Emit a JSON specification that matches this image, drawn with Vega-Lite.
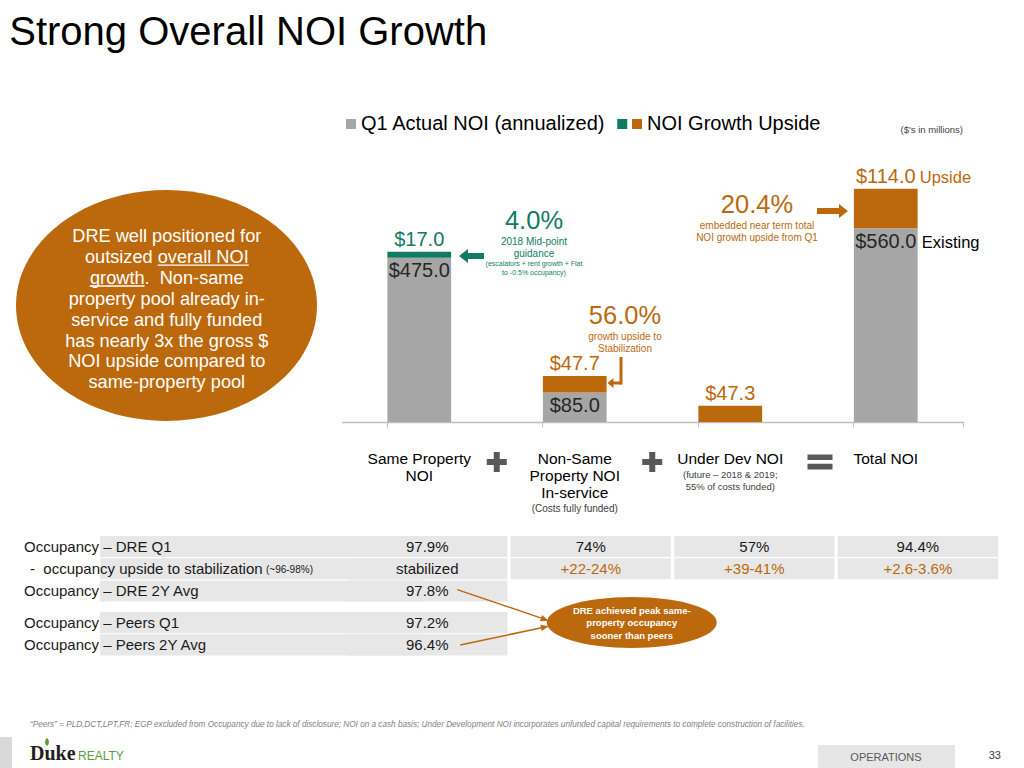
{
  "$schema": "https://vega.github.io/schema/vega-lite/v6.json",
  "width": 1024,
  "height": 768,
  "autosize": {"type": "none"},
  "padding": 0,
  "background": "#ffffff",
  "config": {"view": {"stroke": null}, "font": "Liberation Sans", "text": {"font": "Liberation Sans"}},
  "datasets": {
    "bars": [
      {"category": "Same Property NOI", "part": "Q1 Actual NOI (annualized)", "layer": "Existing", "value": 475},
      {"category": "Same Property NOI", "part": "2018 guidance growth", "layer": "Upside", "value": 17},
      {"category": "Non-Same Property NOI", "part": "Q1 Actual NOI (annualized)", "layer": "Existing", "value": 85},
      {"category": "Non-Same Property NOI", "part": "NOI Growth Upside", "layer": "Upside", "value": 47.7},
      {"category": "Under Dev NOI", "part": "NOI Growth Upside", "layer": "Upside", "value": 47.3},
      {"category": "Total NOI", "part": "Q1 Actual NOI (annualized)", "layer": "Existing", "value": 560},
      {"category": "Total NOI", "part": "NOI Growth Upside", "layer": "Upside", "value": 114}
    ],
    "cats": [
      {"category": "Same Property NOI", "lines": ["Same Property", "NOI"]},
      {"category": "Non-Same Property NOI", "lines": ["Non-Same", "Property NOI", "In-service"]},
      {"category": "Under Dev NOI", "lines": ["Under Dev NOI"]},
      {"category": "Total NOI", "lines": ["Total NOI"]}
    ],
    "ops": [
      {"before": "Non-Same Property NOI", "op": "+"},
      {"before": "Under Dev NOI", "op": "+"},
      {"before": "Total NOI", "op": "="}
    ],
    "notes": [
      {"key": "title", "text": "Strong Overall NOI Growth"},
      {"key": "units", "text": "($'s in millions)"},
      {"key": "g_pct", "text": "4.0%"},
      {"key": "g_sub", "text": ["2018 Mid-point", "guidance"]},
      {"key": "g_note", "text": ["(escalators + rent growth + Flat", "to -0.5% occupancy)"]},
      {"key": "n_pct", "text": "56.0%"},
      {"key": "n_sub", "text": ["growth upside to", "Stabilization"]},
      {"key": "t_pct", "text": "20.4%"},
      {"key": "t_sub", "text": ["embedded near term total", "NOI growth upside from Q1"]},
      {"key": "callout", "text": ["DRE well positioned for", "outsized overall NOI", "growth.\u00a0 Non-same", "property pool already in-", "service and fully funded", "has nearly 3x the gross $", "NOI upside compared to", "same-property pool"]},
      {"key": "sub_nonsame", "text": "(Costs fully funded)"},
      {"key": "sub_underdev", "text": ["(future \u2013 2018 & 2019;", "55% of costs funded)"]},
      {"key": "peak", "text": ["DRE achieved peak same-", "property occupancy", "sooner than peers"]},
      {"key": "footnote", "text": "\u201cPeers\u201d = PLD,DCT,LPT,FR; EGP excluded from Occupancy due to lack of disclosure; NOI on a cash basis; Under Development NOI incorporates unfunded capital requirements to complete construction of facilities."},
      {"key": "logo_a", "text": "Duke"},
      {"key": "logo_b", "text": "REALTY"},
      {"key": "section", "text": "OPERATIONS"},
      {"key": "page", "text": "33"}
    ],
    "table": [
      {"row": "r1", "col": "label", "kind": "label", "tone": "base", "text": "Occupancy \u2013 DRE Q1"},
      {"row": "r1", "col": "Same Property NOI", "kind": "value", "tone": "base", "text": "97.9%"},
      {"row": "r1", "col": "Non-Same Property NOI", "kind": "value", "tone": "base", "text": "74%"},
      {"row": "r1", "col": "Under Dev NOI", "kind": "value", "tone": "base", "text": "57%"},
      {"row": "r1", "col": "Total NOI", "kind": "value", "tone": "base", "text": "94.4%"},
      {"row": "r2", "col": "label", "kind": "sublabel", "tone": "base", "text": "-\u00a0\u00a0occupancy upside to stabilization"},
      {"row": "r2", "col": "label", "kind": "note", "tone": "base", "text": "(~96-98%)"},
      {"row": "r2", "col": "Same Property NOI", "kind": "value", "tone": "base", "text": "stabilized"},
      {"row": "r2", "col": "Non-Same Property NOI", "kind": "value", "tone": "upside", "text": "+22-24%"},
      {"row": "r2", "col": "Under Dev NOI", "kind": "value", "tone": "upside", "text": "+39-41%"},
      {"row": "r2", "col": "Total NOI", "kind": "value", "tone": "upside", "text": "+2.6-3.6%"},
      {"row": "r3", "col": "label", "kind": "label", "tone": "base", "text": "Occupancy \u2013 DRE 2Y Avg"},
      {"row": "r3", "col": "Same Property NOI", "kind": "value", "tone": "base", "text": "97.8%"},
      {"row": "r4", "col": "label", "kind": "label", "tone": "base", "text": "Occupancy \u2013 Peers Q1"},
      {"row": "r4", "col": "Same Property NOI", "kind": "value", "tone": "base", "text": "97.2%"},
      {"row": "r5", "col": "label", "kind": "label", "tone": "base", "text": "Occupancy \u2013 Peers 2Y Avg"},
      {"row": "r5", "col": "Same Property NOI", "kind": "value", "tone": "base", "text": "96.4%"}
    ]
  },
  "layer": [
    {
      "layer": [
        {
          "data": {"name": "bars"},
          "transform": [
            {"stack": "value", "groupby": ["category"], "sort": [{"field": "layer", "order": "ascending"}], "as": ["v0", "v1"]},
            {"calculate": "'$' + format(datum.value, '.1f')", "as": "label"}
          ],
          "layer": [
            {
              "mark": {"type": "bar"},
              "encoding": {
                "x": {"field": "category", "type": "nominal", "sort": null,
                  "scale": {"domain": ["Same Property NOI", "Non-Same Property NOI", "Under Dev NOI", "Total NOI"], "range": [341.5, 963.5], "paddingInner": 0.59, "paddingOuter": 0.295},
                  "axis": {"orient": "bottom", "offset": -346, "labels": false, "title": null, "grid": false, "domainColor": "#BFBFBF", "domainWidth": 1.5, "tickColor": "#BFBFBF", "tickWidth": 1, "tickSize": 5, "bandPosition": 0}},
                "y": {"field": "v0", "type": "quantitative", "scale": {"domain": [0, 700], "range": [422, 179.8], "nice": false, "zero": false}, "axis": null},
                "y2": {"field": "v1"},
                "color": {"field": "part", "type": "nominal",
                  "scale": {"domain": ["Q1 Actual NOI (annualized)", "2018 guidance growth", "NOI Growth Upside"], "range": ["#A6A6A6", "#117C63", "#BC690D"]},
                  "legend": {"orient": "none", "legendX": 341, "legendY": 114, "direction": "horizontal", "columns": 2, "values": ["Q1 Actual NOI (annualized)", "NOI Growth Upside"], "title": null, "symbolType": "square", "symbolSize": 100, "symbolStrokeWidth": 0, "symbolOpacity": 1, "labelFontSize": 20, "labelFont": "Liberation Sans", "labelColor": "#000000", "labelOffset": 0, "columnPadding": 21, "padding": 0, "labelLimit": 400}}
              }
            },
            {
              "transform": [{"filter": "datum.layer === 'Upside'"}],
              "mark": {"type": "text", "fontSize": 20, "baseline": "alphabetic", "dy": -6},
              "encoding": {
                "x": {"field": "category", "type": "nominal"},
                "y": {"field": "v1", "type": "quantitative"},
                "text": {"field": "label"},
                "color": {"condition": {"test": "datum.part === '2018 guidance growth'", "value": "#117C63"}, "value": "#BC690D"}
              }
            },
            {
              "transform": [{"filter": "datum.layer === 'Existing'"}],
              "mark": {"type": "text", "fontSize": 20, "baseline": "alphabetic", "dy": 19.5, "color": "#262626"},
              "encoding": {
                "x": {"field": "category", "type": "nominal"},
                "y": {"field": "v1", "type": "quantitative"},
                "text": {"field": "label"}
              }
            },
            {
              "transform": [{"filter": "datum.category === 'Total NOI' && datum.layer === 'Upside'"}],
              "mark": {"type": "text", "fontSize": 16.5, "align": "left", "baseline": "alphabetic", "dx": 34, "dy": -6, "color": "#BC690D"},
              "encoding": {
                "x": {"field": "category", "type": "nominal"},
                "y": {"field": "v1", "type": "quantitative"},
                "text": {"field": "layer"}
              }
            },
            {
              "transform": [{"filter": "datum.category === 'Total NOI' && datum.layer === 'Existing'"}],
              "mark": {"type": "text", "fontSize": 16.5, "align": "left", "baseline": "alphabetic", "dx": 36, "dy": 19.5, "color": "#000000"},
              "encoding": {
                "x": {"field": "category", "type": "nominal"},
                "y": {"field": "v1", "type": "quantitative"},
                "text": {"field": "layer"}
              }
            }
          ]
        },
        {
          "data": {"name": "notes"},
          "transform": [{"filter": "datum.key === 'callout'"}],
          "mark": {"type": "point", "filled": true, "opacity": 1, "strokeWidth": 0, "color": "#BC690D", "size": 90601, "xOffset": -252.75,
            "shape": "M1,0C1,0.4236,0.5523,0.767,0,0.767C-0.5523,0.767,-1,0.4236,-1,0C-1,-0.4236,-0.5523,-0.767,0,-0.767C0.5523,-0.767,1,-0.4236,1,0Z"},
          "encoding": {"x": {"datum": "Same Property NOI"}, "y": {"datum": 336.7}}
        },
        {
          "data": {"name": "notes"},
          "transform": [{"filter": "datum.key === 'callout'"}],
          "mark": {"type": "text", "fontSize": 18.2, "lineHeight": 20.86, "baseline": "middle", "align": "center", "dx": -252.45, "color": "#FFFFFF"},
          "encoding": {"x": {"datum": "Same Property NOI"}, "y": {"datum": 533.8}, "text": {"field": "text"}}
        },
        {
          "data": {"name": "notes"},
          "transform": [{"filter": "datum.key === 'callout'"}],
          "mark": {"type": "point", "filled": true, "opacity": 1, "strokeWidth": 0, "color": "#FFFFFF", "size": 8300, "xOffset": -216.05,
            "shape": "M-1,-0.0143L1,-0.0143L1,0.0143L-1,0.0143Z"},
          "encoding": {"x": {"datum": "Same Property NOI"}, "y": {"datum": 453.2}}
        },
        {
          "data": {"name": "notes"},
          "transform": [{"filter": "datum.key === 'callout'"}],
          "mark": {"type": "point", "filled": true, "opacity": 1, "strokeWidth": 0, "color": "#FFFFFF", "size": 2981, "xOffset": -302.05,
            "shape": "M-1,-0.024L1,-0.024L1,0.024L-1,0.024Z"},
          "encoding": {"x": {"datum": "Same Property NOI"}, "y": {"datum": 393.1}}
        },
        {
          "data": {"name": "notes"},
          "transform": [{"filter": "datum.key === 'title'"}],
          "mark": {"type": "text", "fontSize": 40, "align": "left", "baseline": "alphabetic", "dx": -410, "color": "#000000"},
          "encoding": {"x": {"datum": "Same Property NOI"}, "y": {"datum": 1088.2}, "text": {"field": "text"}}
        },
        {
          "data": {"name": "notes"},
          "transform": [{"filter": "datum.key === 'units'"}],
          "mark": {"type": "text", "fontSize": 9.5, "align": "center", "baseline": "middle", "dx": 46, "color": "#404040"},
          "encoding": {"x": {"datum": "Total NOI"}, "y": {"datum": 843.9}, "text": {"field": "text"}}
        },
        {
          "data": {"name": "notes"},
          "transform": [{"filter": "datum.key === 'title'"}],
          "mark": {"type": "point", "filled": true, "opacity": 1, "strokeWidth": 0, "shape": "square", "size": 100, "color": "#117C63", "xOffset": 203},
          "encoding": {"x": {"datum": "Same Property NOI"}, "y": {"datum": 861.3}}
        },
        {
          "data": {"name": "notes"},
          "transform": [{"filter": "datum.key === 'g_pct'"}],
          "mark": {"type": "text", "fontSize": 25.5, "align": "center", "baseline": "middle", "dx": 114.75, "color": "#117C63"},
          "encoding": {"x": {"datum": "Same Property NOI"}, "y": {"datum": 580.9}, "text": {"field": "text"}}
        },
        {
          "data": {"name": "notes"},
          "transform": [{"filter": "datum.key === 'g_sub'"}],
          "mark": {"type": "text", "fontSize": 10, "lineHeight": 12, "align": "center", "baseline": "middle", "dx": 114.75, "color": "#117C63"},
          "encoding": {"x": {"datum": "Same Property NOI"}, "y": {"datum": 520.2}, "text": {"field": "text"}}
        },
        {
          "data": {"name": "notes"},
          "transform": [{"filter": "datum.key === 'g_note'"}],
          "mark": {"type": "text", "fontSize": 7, "lineHeight": 9, "align": "center", "baseline": "middle", "dx": 114.75, "color": "#117C63"},
          "encoding": {"x": {"datum": "Same Property NOI"}, "y": {"datum": 456.6}, "text": {"field": "text"}}
        },
        {
          "data": {"name": "notes"},
          "transform": [{"filter": "datum.key === 'g_pct'"}],
          "mark": {"type": "point", "filled": true, "opacity": 1, "strokeWidth": 0, "color": "#117C63", "size": 625, "xOffset": 52.25,
            "shape": "M1,-0.24L-0.28,-0.24L-0.28,-0.56L-1,0L-0.28,0.56L-0.28,0.24L1,0.24Z"},
          "encoding": {"x": {"datum": "Same Property NOI"}, "y": {"datum": 479.8}}
        },
        {
          "data": {"name": "notes"},
          "transform": [{"filter": "datum.key === 'n_pct'"}],
          "mark": {"type": "text", "fontSize": 25.5, "align": "center", "baseline": "middle", "dx": 50.25, "color": "#BC690D"},
          "encoding": {"x": {"datum": "Non-Same Property NOI"}, "y": {"datum": 306.4}, "text": {"field": "text"}}
        },
        {
          "data": {"name": "notes"},
          "transform": [{"filter": "datum.key === 'n_sub'"}],
          "mark": {"type": "text", "fontSize": 10, "lineHeight": 12, "align": "center", "baseline": "middle", "dx": 50.25, "color": "#BC690D"},
          "encoding": {"x": {"datum": "Non-Same Property NOI"}, "y": {"datum": 245.7}, "text": {"field": "text"}}
        },
        {
          "data": {"name": "notes"},
          "transform": [{"filter": "datum.key === 'n_pct'"}],
          "mark": {"type": "rule", "color": "#BC690D", "strokeWidth": 3, "xOffset": 46.25},
          "encoding": {"x": {"datum": "Non-Same Property NOI"}, "y": {"datum": 187.9}, "y2": {"datum": 108.4}}
        },
        {
          "data": {"name": "notes"},
          "transform": [{"filter": "datum.key === 'n_pct'"}],
          "mark": {"type": "point", "filled": true, "opacity": 1, "strokeWidth": 0, "color": "#BC690D", "size": 196, "xOffset": 39.75,
            "shape": "M1,-0.21L-0.15,-0.21L-0.15,-0.71L-1,0L-0.15,0.71L-0.15,0.21L1,0.21Z"},
          "encoding": {"x": {"datum": "Non-Same Property NOI"}, "y": {"datum": 112.7}}
        },
        {
          "data": {"name": "notes"},
          "transform": [{"filter": "datum.key === 't_pct'"}],
          "mark": {"type": "text", "fontSize": 25.5, "align": "center", "baseline": "middle", "dx": 26.75, "color": "#BC690D"},
          "encoding": {"x": {"datum": "Under Dev NOI"}, "y": {"datum": 627.2}, "text": {"field": "text"}}
        },
        {
          "data": {"name": "notes"},
          "transform": [{"filter": "datum.key === 't_sub'"}],
          "mark": {"type": "text", "fontSize": 10, "lineHeight": 12, "align": "center", "baseline": "middle", "dx": 26.75, "color": "#BC690D"},
          "encoding": {"x": {"datum": "Under Dev NOI"}, "y": {"datum": 566.5}, "text": {"field": "text"}}
        },
        {
          "data": {"name": "notes"},
          "transform": [{"filter": "datum.key === 't_pct'"}],
          "mark": {"type": "point", "filled": true, "opacity": 1, "strokeWidth": 0, "color": "#BC690D", "size": 961, "xOffset": -53.25,
            "shape": "M-1,-0.19L0.42,-0.19L0.42,-0.45L1,0L0.42,0.45L0.42,0.19L-1,0.19Z"},
          "encoding": {"x": {"datum": "Total NOI"}, "y": {"datum": 609.8}}
        },
        {
          "data": {"name": "cats"},
          "mark": {"type": "text", "fontSize": 15.5, "lineHeight": 17, "baseline": "top", "align": "center", "color": "#000000"},
          "encoding": {"x": {"field": "category", "type": "nominal"}, "y": {"datum": -87.9}, "text": {"field": "lines"}}
        },
        {
          "data": {"name": "notes"},
          "transform": [{"filter": "datum.key === 'sub_nonsame'"}],
          "mark": {"type": "text", "fontSize": 10, "baseline": "top", "align": "center", "color": "#404040"},
          "encoding": {"x": {"datum": "Non-Same Property NOI"}, "y": {"datum": -236.1}, "text": {"field": "text"}}
        },
        {
          "data": {"name": "notes"},
          "transform": [{"filter": "datum.key === 'sub_underdev'"}],
          "mark": {"type": "text", "fontSize": 9.5, "lineHeight": 12, "baseline": "top", "align": "center", "color": "#404040"},
          "encoding": {"x": {"datum": "Under Dev NOI"}, "y": {"datum": -138.4}, "text": {"field": "text"}}
        },
        {
          "data": {"name": "ops"},
          "transform": [{"filter": "datum.op === '+'"}],
          "mark": {"type": "point", "filled": true, "opacity": 1, "strokeWidth": 0, "color": "#595959", "size": 400, "xOffset": -78,
            "shape": "M-0.3,-1L0.3,-1L0.3,-0.3L1,-0.3L1,0.3L0.3,0.3L0.3,1L-0.3,1L-0.3,0.3L-1,0.3L-1,-0.3L-0.3,-0.3Z"},
          "encoding": {"x": {"field": "before", "type": "nominal"}, "y": {"datum": -115.6}}
        },
        {
          "data": {"name": "ops"},
          "transform": [{"filter": "datum.op === '='"}],
          "mark": {"type": "point", "filled": true, "opacity": 1, "strokeWidth": 0, "color": "#595959", "size": 625, "xOffset": -65.75,
            "shape": "M-1,-0.6L1,-0.6L1,-0.15L-1,-0.15ZM-1,0.15L1,0.15L1,0.6L-1,0.6Z"},
          "encoding": {"x": {"field": "before", "type": "nominal"}, "y": {"datum": -115.6}}
        },
        {
          "data": {"name": "ops"},
          "transform": [{"filter": "datum.op === '='"}],
          "mark": {"type": "rule", "color": "#BFBFBF", "strokeWidth": 1, "xOffset": 77.75},
          "encoding": {"x": {"field": "before", "type": "nominal"}, "y": {"datum": 0}, "y2": {"datum": -14.45}}
        },
        {
          "data": {"name": "notes"},
          "transform": [{"filter": "datum.key === 'footnote'"}],
          "mark": {"type": "text", "fontSize": 8.2, "fontStyle": "italic", "align": "left", "baseline": "middle", "dx": -389.25, "color": "#7F7F7F"},
          "encoding": {"x": {"datum": "Same Property NOI"}, "y": {"datum": -875.7}, "text": {"field": "text"}}
        },
        {
          "data": {"name": "notes"},
          "transform": [{"filter": "datum.key === 'logo_a'"}],
          "mark": {"type": "point", "filled": true, "opacity": 1, "strokeWidth": 0, "color": "#D9D9D9", "size": 961, "xOffset": -413.25,
            "shape": "M-0.387,-1L0.387,-1L0.387,1L-0.387,1Z"},
          "encoding": {"x": {"datum": "Same Property NOI"}, "y": {"datum": -955.2}}
        },
        {
          "data": {"name": "notes"},
          "transform": [{"filter": "datum.key === 'logo_a'"}],
          "mark": {"type": "text", "font": "Liberation Serif", "fontWeight": "bold", "fontSize": 20, "align": "left", "baseline": "alphabetic", "dx": -389.25, "color": "#231F20"},
          "encoding": {"x": {"datum": "Same Property NOI"}, "y": {"datum": -976.9}, "text": {"field": "text"}}
        },
        {
          "data": {"name": "notes"},
          "transform": [{"filter": "datum.key === 'logo_a'"}],
          "mark": {"type": "point", "filled": true, "opacity": 1, "strokeWidth": 0, "color": "#5B9B3A", "size": 64, "xOffset": -372.25,
            "shape": "M0,1C-0.8,0.3,-0.5,-0.6,0,-1C0.5,-0.6,0.8,0.3,0,1Z"},
          "encoding": {"x": {"datum": "Same Property NOI"}, "y": {"datum": -924.9}}
        },
        {
          "data": {"name": "notes"},
          "transform": [{"filter": "datum.key === 'logo_b'"}],
          "mark": {"type": "text", "fontSize": 12, "align": "left", "baseline": "alphabetic", "dx": -341.25, "color": "#5B9B3A"},
          "encoding": {"x": {"datum": "Same Property NOI"}, "y": {"datum": -976.9}, "text": {"field": "text"}}
        },
        {
          "data": {"name": "notes"},
          "transform": [{"filter": "datum.key === 'section'"}],
          "mark": {"type": "point", "filled": true, "opacity": 1, "strokeWidth": 0, "color": "#E7E6E6", "size": 18769, "xOffset": 0.75,
            "shape": "M-1,-0.168L1,-0.168L1,0.168L-1,0.168Z"},
          "encoding": {"x": {"datum": "Total NOI"}, "y": {"datum": -966.8}}
        },
        {
          "data": {"name": "notes"},
          "transform": [{"filter": "datum.key === 'section'"}],
          "mark": {"type": "text", "fontSize": 11, "align": "center", "baseline": "middle", "dx": 0.25, "color": "#595959"},
          "encoding": {"x": {"datum": "Total NOI"}, "y": {"datum": -971.1}, "text": {"field": "text"}}
        },
        {
          "data": {"name": "notes"},
          "transform": [{"filter": "datum.key === 'page'"}],
          "mark": {"type": "text", "fontSize": 11, "align": "center", "baseline": "middle", "dx": 109, "color": "#404040"},
          "encoding": {"x": {"datum": "Total NOI"}, "y": {"datum": -965.3}, "text": {"field": "text"}}
        }
      ]
    },
    {
      "layer": [
        {
          "data": {"name": "table"},
          "transform": [{"filter": "datum.row === 'r1' || datum.row === 'r2' || datum.row === 'r3'"}],
          "layer": [
            {
              "transform": [{"filter": "datum.kind === 'value'"}],
              "mark": {"type": "rect", "color": "#E7E7E7"},
              "encoding": {
                "x": {"field": "col", "type": "nominal", "axis": null, "scale": {"domain": ["label", "label_cont", "Same Property NOI", "Non-Same Property NOI", "Under Dev NOI", "Total NOI"], "range": [20, 998], "paddingInner": 0.02, "paddingOuter": 0}},
                "y": {"field": "row", "type": "nominal", "axis": null, "scale": {"domain": ["r1", "r2", "r3"], "range": [536, 601.5], "paddingInner": 0.05, "paddingOuter": 0}}
              }
            },
            {
              "transform": [{"filter": "datum.kind === 'label' || datum.kind === 'sublabel'"}],
              "mark": {"type": "rect", "color": "#E7E7E7", "x2Offset": -3},
              "encoding": {
                "x": {"field": "col", "type": "nominal"},
                "x2": {"datum": "Same Property NOI"},
                "y": {"field": "row", "type": "nominal"}
              }
            },
            {
              "transform": [{"filter": "datum.kind === 'label'"}],
              "mark": {"type": "text", "fontSize": 15, "align": "left", "baseline": "middle", "dx": 4, "color": "#1A1A1A"},
              "encoding": {"x": {"field": "col", "type": "nominal", "bandPosition": 0}, "y": {"field": "row", "type": "nominal"}, "text": {"field": "text"}}
            },
            {
              "transform": [{"filter": "datum.kind === 'sublabel'"}],
              "mark": {"type": "text", "fontSize": 15, "align": "left", "baseline": "middle", "dx": 10, "color": "#1A1A1A"},
              "encoding": {"x": {"field": "col", "type": "nominal", "bandPosition": 0}, "y": {"field": "row", "type": "nominal"}, "text": {"field": "text"}}
            },
            {
              "transform": [{"filter": "datum.kind === 'note'"}],
              "mark": {"type": "text", "fontSize": 10, "align": "left", "baseline": "middle", "dx": 246, "dy": 1, "color": "#1A1A1A"},
              "encoding": {"x": {"field": "col", "type": "nominal", "bandPosition": 0}, "y": {"field": "row", "type": "nominal"}, "text": {"field": "text"}}
            },
            {
              "transform": [{"filter": "datum.kind === 'value'"}],
              "mark": {"type": "text", "fontSize": 15, "align": "center", "baseline": "middle"},
              "encoding": {"x": {"field": "col", "type": "nominal"}, "y": {"field": "row", "type": "nominal"}, "text": {"field": "text"},
                "color": {"condition": {"test": "datum.tone === 'upside'", "value": "#BC690D"}, "value": "#1A1A1A"}}
            }
          ]
        },
        {
          "layer": [
            {
              "data": {"name": "table"},
              "transform": [{"filter": "datum.row === 'r4' || datum.row === 'r5'"}],
              "layer": [
                {
                  "transform": [{"filter": "datum.kind === 'value'"}],
                  "mark": {"type": "rect", "color": "#E7E7E7"},
                  "encoding": {
                    "x": {"field": "col", "type": "nominal", "axis": null, "scale": {"domain": ["label", "label_cont", "Same Property NOI", "Non-Same Property NOI", "Under Dev NOI", "Total NOI"], "range": [20, 998], "paddingInner": 0.02, "paddingOuter": 0}},
                    "y": {"field": "row", "type": "nominal", "axis": null, "scale": {"domain": ["r4", "r5"], "range": [612, 655.5], "paddingInner": 0.05, "paddingOuter": 0}}
                  }
                },
                {
                  "transform": [{"filter": "datum.kind === 'label'"}],
                  "mark": {"type": "rect", "color": "#E7E7E7", "x2Offset": -3},
                  "encoding": {
                    "x": {"field": "col", "type": "nominal"},
                    "x2": {"datum": "Same Property NOI"},
                    "y": {"field": "row", "type": "nominal"}
                  }
                },
                {
                  "transform": [{"filter": "datum.kind === 'label'"}],
                  "mark": {"type": "text", "fontSize": 15, "align": "left", "baseline": "middle", "dx": 4, "color": "#1A1A1A"},
                  "encoding": {"x": {"field": "col", "type": "nominal", "bandPosition": 0}, "y": {"field": "row", "type": "nominal"}, "text": {"field": "text"}}
                },
                {
                  "transform": [{"filter": "datum.kind === 'value'"}],
                  "mark": {"type": "text", "fontSize": 15, "align": "center", "baseline": "middle", "color": "#1A1A1A"},
                  "encoding": {"x": {"field": "col", "type": "nominal"}, "y": {"field": "row", "type": "nominal"}, "text": {"field": "text"}}
                }
              ]
            },
            {
              "data": {"name": "notes"},
              "transform": [{"filter": "datum.key === 'peak'"}],
              "mark": {"type": "rule", "color": "#BC690D", "strokeWidth": 1.5, "xOffset": 30, "yOffset": -33, "x2Offset": -48, "y2Offset": -4},
              "encoding": {"x": {"datum": "Same Property NOI"}, "y": {"datum": "r4"}, "x2": {"datum": "Non-Same Property NOI"}, "y2": {"datum": "r4"}}
            },
            {
              "data": {"name": "notes"},
              "transform": [{"filter": "datum.key === 'peak'"}],
              "mark": {"type": "rule", "color": "#BC690D", "strokeWidth": 1.5, "xOffset": 33, "x2Offset": -48, "y2Offset": 5},
              "encoding": {"x": {"datum": "Same Property NOI"}, "y": {"datum": "r5"}, "x2": {"datum": "Non-Same Property NOI"}, "y2": {"datum": "r4"}}
            },
            {
              "data": {"name": "notes"},
              "transform": [{"filter": "datum.key === 'peak'"}],
              "mark": {"type": "point", "filled": true, "opacity": 1, "strokeWidth": 0, "color": "#BC690D", "size": 64, "xOffset": -45.9, "yOffset": -3.2, "angle": 18.6, "shape": "M1,0L-1,-0.8L-1,0.8Z"},
              "encoding": {"x": {"datum": "Non-Same Property NOI"}, "y": {"datum": "r4"}}
            },
            {
              "data": {"name": "notes"},
              "transform": [{"filter": "datum.key === 'peak'"}],
              "mark": {"type": "point", "filled": true, "opacity": 1, "strokeWidth": 0, "color": "#BC690D", "size": 64, "xOffset": -45.9, "yOffset": 4.4, "angle": -11.8, "shape": "M1,0L-1,-0.8L-1,0.8Z"},
              "encoding": {"x": {"datum": "Non-Same Property NOI"}, "y": {"datum": "r4"}}
            },
            {
              "data": {"name": "notes"},
              "transform": [{"filter": "datum.key === 'peak'"}],
              "mark": {"type": "point", "filled": true, "opacity": 1, "strokeWidth": 0, "color": "#BC690D", "size": 28900, "xOffset": 41,
                "shape": "M1,0C1,0.1657,0.5523,0.3,0,0.3C-0.5523,0.3,-1,0.1657,-1,0C-1,-0.1657,-0.5523,-0.3,0,-0.3C0.5523,-0.3,1,-0.1657,1,0Z"},
              "encoding": {"x": {"datum": "Non-Same Property NOI"}, "y": {"datum": "r4"}}
            },
            {
              "data": {"name": "notes"},
              "transform": [{"filter": "datum.key === 'peak'"}],
              "mark": {"type": "text", "fontSize": 9.5, "fontWeight": "bold", "lineHeight": 12.5, "align": "center", "baseline": "middle", "dx": 41, "dy": -11.6, "color": "#FFFFFF"},
              "encoding": {"x": {"datum": "Non-Same Property NOI"}, "y": {"datum": "r4"}, "text": {"field": "text"}}
            }
          ]
        }
      ],
      "resolve": {"scale": {"y": "independent"}}
    }
  ],
  "resolve": {"scale": {"x": "independent", "y": "independent"}}
}
